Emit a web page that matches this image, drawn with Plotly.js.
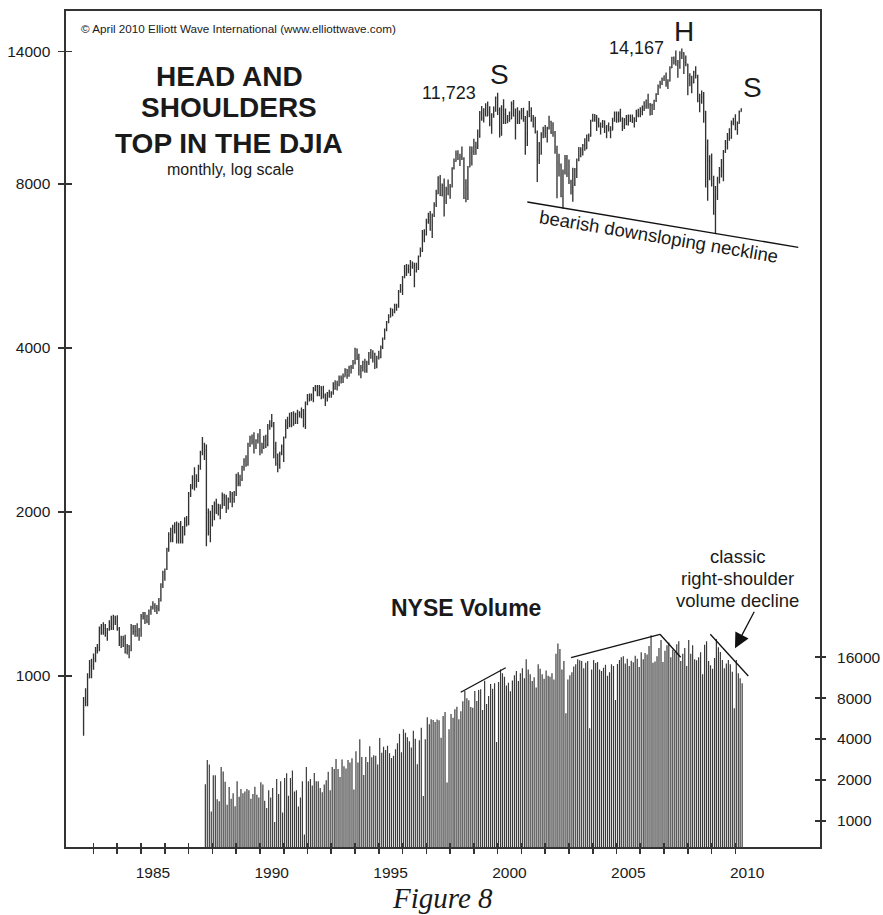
<!DOCTYPE html>
<html><head><meta charset="utf-8">
<script src="https://cdn.plot.ly/plotly-3.0.1.min.js"></script>
<style>html,body{margin:0;padding:0;background:#fff;}#chart{width:883px;height:915px;}</style>
</head><body><div id="chart"></div>
<script>
// ---------------- DATA ----------------
// DJIA monthly bars, first bar Aug 1982, last bar Apr 2010 (partial)
const djiaStartYear = 1982, djiaStartMonth = 8;
const djiaOpen = [
  809, 901, 896, 992, 1039,
  1047, 1076, 1113, 1130, 1226, 1200, 1222, 1199, 1216, 1233, 1225, 1276,
  1259, 1221, 1155, 1165, 1171, 1105, 1132, 1115, 1224, 1207, 1207, 1189,
  1212, 1287, 1284, 1267, 1258, 1315, 1336, 1348, 1334, 1329, 1374, 1472,
  1547, 1571, 1709, 1819, 1784, 1877, 1893, 1775, 1898, 1768, 1878, 1914,
  1896, 2158, 2224, 2305, 2286, 2292, 2419, 2572, 2663, 2596, 1994, 1834,
  1939, 1958, 2072, 1988, 2032, 2031, 2142, 2129, 2032, 2113, 2149, 2115,
  2169, 2342, 2258, 2294, 2419, 2480, 2440, 2661, 2737, 2693, 2645, 2706,
  2753, 2591, 2627, 2707, 2657, 2877, 2881, 2905, 2614, 2453, 2442, 2560,
  2634, 2736, 2882, 2914, 2888, 3028, 2907, 3025, 3044, 3017, 3069, 2895,
  3169, 3224, 3267, 3236, 3359, 3397, 3319, 3394, 3257, 3272, 3226, 3305,
  3301, 3310, 3371, 3435, 3428, 3527, 3516, 3540, 3651, 3555, 3681, 3684,
  3754, 3978, 3832, 3636, 3682, 3758, 3625, 3765, 3913, 3843, 3908, 3739,
  3834, 3844, 4011, 4158, 4321, 4465, 4556, 4709, 4650, 4789, 4756, 5075,
  5117, 5395, 5486, 5587, 5569, 5643, 5655, 5529, 5616, 5882, 6029, 6522,
  6448, 6813, 6878, 6584, 7009, 7331, 7673, 8223, 7622, 7945, 7442, 7823,
  7908, 7907, 8546, 8800, 9063, 8900, 8952, 8883, 7539, 7843, 8592, 9117,
  9181, 9359, 9307, 9786, 10789, 10560, 10971, 10655, 10829, 10337, 10729, 10878,
  11497, 10941, 10128, 10922, 10734, 10522, 10448, 10522, 11215, 10651, 10971, 10415,
  10787, 10887, 10495, 9879, 10735, 10912, 10502, 10523, 9950, 8848, 9075, 9852,
  10022, 9920, 10106, 10404, 9946, 9925, 9243, 8737, 8664, 7592, 8397, 8896,
  8342, 8054, 7891, 7992, 8480, 8850, 8985, 9234, 9416, 9275, 9801, 9782,
  10454, 10488, 10584, 10358, 10226, 10188, 10435, 10140, 10174, 10080, 10027, 10428,
  10783, 10490, 10766, 10504, 10193, 10467, 10275, 10641, 10482, 10569, 10440, 10806,
  10718, 10865, 10993, 11109, 11367, 11168, 11150, 11186, 11381, 11679, 12081, 12222,
  12463, 12622, 12269, 12354, 13063, 13628, 13409, 13212, 13358, 13896, 13930, 13372,
  13265, 12650, 12266, 12263, 12820, 12638, 11350, 11378, 11544, 10851, 9325, 8829,
  8776, 8001, 7063, 7609, 8168, 8500, 8447, 9172, 9496, 9712, 9713, 10345,
  10428, 10067, 10325, 10857
];
const djiaHigh = [
  915, 950, 1012, 1070, 1075,
  1100, 1130, 1145, 1232, 1245, 1255, 1245, 1225, 1265, 1290, 1295, 1290,
  1292, 1230, 1185, 1185, 1190, 1145, 1140, 1245, 1240, 1240, 1250, 1225,
  1300, 1310, 1310, 1295, 1325, 1345, 1372, 1360, 1350, 1390, 1480, 1560,
  1575, 1720, 1835, 1870, 1895, 1915, 1920, 1910, 1925, 1885, 1955, 1965,
  2175, 2250, 2335, 2415, 2345, 2440, 2590, 2746, 2680, 2660, 2030, 2010,
  2060, 2090, 2115, 2070, 2065, 2170, 2160, 2150, 2125, 2185, 2175, 2185,
  2350, 2365, 2340, 2430, 2510, 2540, 2680, 2760, 2775, 2800, 2720, 2790,
  2840, 2680, 2760, 2770, 2900, 2945, 3025, 2925, 2690, 2560, 2580, 2660,
  2750, 2960, 2990, 3040, 3050, 3060, 3040, 3080, 3060, 3110, 3090, 3190,
  3290, 3300, 3300, 3390, 3420, 3420, 3420, 3400, 3410, 3300, 3320, 3350,
  3330, 3460, 3490, 3480, 3560, 3560, 3590, 3670, 3660, 3710, 3720, 3800,
  4000, 3990, 3900, 3720, 3790, 3820, 3790, 3930, 3980, 3960, 3920, 3870,
  3950, 4040, 4180, 4340, 4480, 4610, 4740, 4720, 4820, 4820, 5110, 5240,
  5420, 5680, 5700, 5690, 5800, 5760, 5730, 5730, 5910, 6110, 6580, 6600,
  6900, 7080, 7130, 7060, 7400, 7800, 8260, 8300, 8010, 8180, 7900, 8150,
  7990, 8580, 8900, 9210, 9220, 9080, 9370, 8950, 8160, 8630, 9380, 9370,
  9680, 9560, 10060, 10880, 11110, 11010, 11250, 11330, 11100, 10780, 11090, 11570,
  11750, 11040, 11150, 11430, 11000, 10700, 10860, 11330, 11400, 11000, 11050, 10900,
  11020, 11030, 10650, 10900, 11350, 11060, 10700, 10620, 10020, 9550, 9950, 10180,
  10260, 10180, 10670, 10440, 10380, 10000, 9400, 9080, 8720, 8500, 9040, 9040,
  8870, 8140, 8560, 8550, 8900, 9350, 9340, 9470, 9700, 9850, 9900, 10490,
  10760, 10750, 10700, 10580, 10370, 10480, 10450, 10260, 10370, 10200, 10580, 10860,
  10860, 10860, 10990, 10600, 10560, 10700, 10720, 10720, 10720, 10600, 10940, 10990,
  11050, 11140, 11340, 11420, 11710, 11260, 11220, 11410, 11730, 12170, 12360, 12530,
  12640, 12800, 12450, 13140, 13690, 13700, 14050, 13500, 14000, 14167, 13950, 13760,
  13280, 12770, 12630, 12900, 13140, 12680, 11700, 11870, 11790, 10890, 9650, 9030,
  9090, 8280, 7930, 8240, 8590, 8880, 9230, 9630, 9920, 10120, 10450, 10580,
  10730, 10410, 10910, 11010
];
const djiaLow = [
  777, 880, 880, 990, 990,
  1027, 1060, 1100, 1110, 1190, 1190, 1180, 1160, 1210, 1215, 1215, 1240,
  1210, 1135, 1125, 1130, 1100, 1095, 1078, 1110, 1190, 1180, 1180, 1160,
  1180, 1270, 1245, 1250, 1240, 1295, 1325, 1310, 1300, 1315, 1370, 1450,
  1495, 1565, 1690, 1760, 1760, 1825, 1750, 1750, 1750, 1750, 1810, 1880,
  1890, 2130, 2200, 2190, 2215, 2270, 2390, 2540, 2490, 1730, 1810, 1760,
  1880, 1930, 1985, 1970, 1940, 2030, 2050, 1990, 2020, 2080, 2040, 2080,
  2140, 2230, 2230, 2280, 2380, 2420, 2430, 2630, 2660, 2560, 2610, 2670,
  2540, 2560, 2610, 2620, 2640, 2830, 2860, 2510, 2430, 2365, 2400, 2540,
  2470, 2730, 2840, 2860, 2860, 2880, 2900, 2900, 2980, 2970, 2860, 2840,
  3140, 3190, 3200, 3180, 3330, 3260, 3260, 3220, 3230, 3130, 3190, 3240,
  3240, 3280, 3350, 3340, 3400, 3440, 3450, 3540, 3510, 3540, 3590, 3660,
  3730, 3800, 3560, 3520, 3620, 3600, 3600, 3720, 3820, 3760, 3660, 3670,
  3810, 3830, 3980, 4140, 4290, 4440, 4550, 4570, 4630, 4680, 4740, 5050,
  5000, 5370, 5420, 5480, 5420, 5590, 5170, 5500, 5560, 5880, 6000, 6250,
  6430, 6760, 6560, 6360, 6950, 7250, 7660, 7600, 7580, 6970, 7350, 7620,
  7510, 7880, 8500, 8780, 8850, 8630, 8850, 7500, 7400, 7470, 8580, 8640,
  9040, 9050, 9270, 9720, 10440, 10370, 10640, 10660, 10200, 9880, 10580, 10850,
  10700, 9730, 9800, 10300, 10300, 10330, 10400, 10520, 10630, 9650, 10300, 10300,
  10500, 10400, 9050, 9390, 10600, 10400, 10150, 9900, 8060, 8700, 9050, 9700,
  9720, 9530, 10060, 9870, 9760, 9080, 7530, 8250, 7560, 7200, 8320, 8230,
  7990, 7650, 7420, 7930, 8200, 8800, 8950, 9020, 9200, 9270, 9570, 9770,
  10400, 10400, 10000, 10150, 9850, 10140, 9920, 9700, 9980, 9700, 10030, 10400,
  10360, 10370, 10400, 10000, 10080, 10250, 10240, 10390, 10340, 10150, 10390, 10600,
  10600, 10690, 10880, 10990, 10990, 10680, 10700, 10930, 11300, 11640, 11970, 12150,
  12350, 12050, 11940, 12330, 13050, 13250, 13180, 12520, 13010, 13560, 12720, 13150,
  11630, 12080, 11730, 12230, 12480, 11290, 10830, 11220, 10360, 7880, 7450, 8120,
  7910, 7020, 6470, 7470, 8010, 8220, 8090, 9110, 9250, 9600, 9680, 10250,
  10030, 9840, 10310, 10850
];
const djiaClose = [
  901, 896, 992, 1039, 1047,
  1076, 1113, 1130, 1226, 1200, 1222, 1199, 1216, 1233, 1225, 1276, 1259,
  1221, 1155, 1165, 1171, 1105, 1132, 1115, 1224, 1207, 1207, 1189, 1212,
  1287, 1284, 1267, 1258, 1315, 1336, 1348, 1334, 1329, 1374, 1472, 1547,
  1571, 1709, 1819, 1784, 1877, 1893, 1775, 1898, 1768, 1878, 1914, 1896,
  2158, 2224, 2305, 2286, 2292, 2419, 2572, 2663, 2596, 1994, 1834, 1939,
  1958, 2072, 1988, 2032, 2031, 2142, 2129, 2032, 2113, 2149, 2115, 2169,
  2342, 2258, 2294, 2419, 2480, 2440, 2661, 2737, 2693, 2645, 2706, 2753,
  2591, 2627, 2707, 2657, 2877, 2881, 2905, 2614, 2453, 2442, 2560, 2634,
  2736, 2882, 2914, 2888, 3028, 2907, 3025, 3044, 3017, 3069, 2895, 3169,
  3224, 3267, 3236, 3359, 3397, 3319, 3394, 3257, 3272, 3226, 3305, 3301,
  3310, 3371, 3435, 3428, 3527, 3516, 3540, 3651, 3555, 3681, 3684, 3754,
  3978, 3832, 3636, 3682, 3758, 3625, 3765, 3913, 3843, 3908, 3739, 3834,
  3844, 4011, 4158, 4321, 4465, 4556, 4709, 4650, 4789, 4756, 5075, 5117,
  5395, 5486, 5587, 5569, 5643, 5655, 5529, 5616, 5882, 6029, 6522, 6448,
  6813, 6878, 6584, 7009, 7331, 7673, 8223, 7622, 7945, 7442, 7823, 7908,
  7907, 8546, 8800, 9063, 8900, 8952, 8883, 7539, 7843, 8592, 9117, 9181,
  9359, 9307, 9786, 10789, 10560, 10971, 10655, 10829, 10337, 10729, 10878, 11497,
  10941, 10128, 10922, 10734, 10522, 10448, 10522, 11215, 10651, 10971, 10415, 10787,
  10887, 10495, 9879, 10735, 10912, 10502, 10523, 9950, 8848, 9075, 9852, 10022,
  9920, 10106, 10404, 9946, 9925, 9243, 8737, 8664, 7592, 8397, 8896, 8342,
  8054, 7891, 7992, 8480, 8850, 8985, 9234, 9416, 9275, 9801, 9782, 10454,
  10488, 10584, 10358, 10226, 10188, 10435, 10140, 10174, 10080, 10027, 10428, 10783,
  10490, 10766, 10504, 10193, 10467, 10275, 10641, 10482, 10569, 10440, 10806, 10718,
  10865, 10993, 11109, 11367, 11168, 11150, 11186, 11381, 11679, 12081, 12222, 12463,
  12622, 12269, 12354, 13063, 13628, 13409, 13212, 13358, 13896, 13930, 13372, 13265,
  12650, 12266, 12263, 12820, 12638, 11350, 11378, 11544, 10851, 9325, 8829, 8776,
  8001, 7063, 7609, 8168, 8500, 8447, 9172, 9496, 9712, 9713, 10345, 10428,
  10067, 10325, 10857, 10970
];

// NYSE monthly volume, first bar Sep 1987, last bar Apr 2010
const volStartYear = 1987, volStartMonth = 9;
const nyseVolume = [
  1860, 2800, 2600, 1170,
  2160, 2160, 1440, 1390, 2490, 2300, 1940, 1310, 1770, 1450, 1590, 1280,
  1950, 1500, 1710, 1590, 1640, 1710, 1680, 1450, 1570, 1780, 1550, 1480,
  1920, 1850, 1400, 1240, 1680, 1480, 1740, 980, 2030, 1570, 1950, 1150,
  2060, 2240, 1530, 2060, 2340, 1640, 1680, 1270, 1480, 1950, 790, 2490,
  1950, 2030, 1820, 2250, 1950, 1950, 1740, 1620, 1850, 1990, 2290, 1680,
  2490, 2400, 2850, 2400, 2100, 2830, 2520, 2420, 2800, 2680, 2880, 1700,
  3250, 2690, 3980, 2950, 2170, 2950, 2710, 3530, 2930, 3030, 3010, 2590,
  4070, 3170, 3510, 3320, 3560, 3140, 2900, 3010, 3360, 3720, 4380, 3190,
  4720, 4450, 4120, 3850, 3470, 4600, 4020, 2610, 3910, 4850, 1520, 3980,
  5780, 5130, 5590, 5520, 5340, 5560, 5500, 4090, 5910, 6330, 1910, 4720,
  6110, 5740, 6620, 6920, 5590, 6400, 7590, 9030, 7980, 7710, 6890, 6810,
  9030, 7620, 9190, 9290, 6540, 10760, 7240, 8300, 10170, 9390, 10290, 3800,
  10500, 13000, 12200, 11500, 9900, 10400, 9000, 10800, 11800, 12700, 10700, 12200,
  13300, 11200, 15500, 13000, 12000, 10700, 11400, 9600, 14200, 13200, 12000, 11100,
  12800, 11700, 11500, 12200, 11000, 17000, 20200, 18400, 13000, 15000, 6200, 11000,
  11800, 12400, 13700, 14200, 15500, 15200, 15000, 13300, 14600, 15000, 4800, 13000,
  15300, 14500, 14800, 13000, 12700, 13400, 14100, 11700, 12400, 14200, 13800, 7740,
  14300, 15300, 16000, 16300, 14400, 15600, 13800, 15100, 14700, 16400, 15600, 13600,
  17400, 15500, 17200, 16800, 19400, 23300, 14600, 14900, 16300, 18700, 21500, 14800,
  17900, 19600, 20600, 16000, 18200, 17500, 20000, 21000, 15000, 17000, 18700, 13800,
  21500, 17000, 19600, 15500, 15200, 16000, 17400, 12000, 19800, 21000, 15000, 14000,
  13200, 15800, 21800, 19000, 17500, 15300, 13300, 14400, 15300, 14200, 12500, 6730,
  15280, 12190, 11200, 10290
];

const leftTickVals = [1000, 2000, 4000, 8000, 14000];
const rightTickVals = [1000, 2000, 4000, 8000, 16000];
const labelYears = [1985, 1990, 1995, 2000, 2005, 2010];
const firstTickYear = 1983, lastTickYear = 2010;

// ---------------- HELPERS ----------------
function monthDates(y, m, n, day) {
  const out = [];
  for (let i = 0; i < n; i++) {
    const yy = y + Math.floor((m - 1 + i) / 12);
    const mm = (m - 1 + i) % 12 + 1;
    out.push(yy + '-' + String(mm).padStart(2, '0') + '-' + day);
  }
  return out;
}
const djiaDates = monthDates(djiaStartYear, djiaStartMonth, djiaClose.length, '01');
const volDates = monthDates(volStartYear, volStartMonth, nyseVolume.length, '15');
const yearTicks = [];
for (let y = firstTickYear; y <= lastTickYear; y++) yearTicks.push(y + '-01-01');
const labelVals = labelYears.map(y => y + '-07-01');
const labelText = labelYears.map(String);

// plot area in pixels: x 66..820, y 11..847
const L = 66, R = 820, T = 11, B = 847;
const px = x => (x - L) / (R - L);
const py = y => (B - y) / (B - T);

const FONT = 'Liberation Sans, Arial, Helvetica, sans-serif';
const INK = '#1a1a1a';
const AX = '#333333';
const MONTH_MS = 30.44 * 86400000;
const xRange = ['1981-11-04', '2013-07-24'];
const yRange = [2.6862, 4.2202];
const y2Range = [2.8062, 8.9668];

const traces = [
  {
    type: 'ohlc', x: djiaDates, open: djiaOpen, high: djiaHigh, low: djiaLow, close: djiaClose,
    xaxis: 'x', yaxis: 'y', tickwidth: 0.4,
    increasing: {line: {color: '#333333', width: 1.35}},
    decreasing: {line: {color: '#333333', width: 1.35}},
    hoverinfo: 'skip', showlegend: false
  },
  {
    type: 'bar', x: volDates, y: nyseVolume, xaxis: 'x', yaxis: 'y2',
    width: 0.6 * MONTH_MS,
    marker: {color: '#3a3a3a', line: {width: 0}},
    hoverinfo: 'skip', showlegend: false
  },
  {type: 'scatter', x: [], y: [], xaxis: 'x2', yaxis: 'y', hoverinfo: 'skip', showlegend: false},
  {type: 'scatter', x: [], y: [], xaxis: 'x', yaxis: 'y3', hoverinfo: 'skip', showlegend: false},
  {type: 'scatter', x: [], y: [], xaxis: 'x', yaxis: 'y4', hoverinfo: 'skip', showlegend: false}
];

function ann(text, x, y, size, extra) {
  return Object.assign({
    text: text, xref: 'paper', yref: 'paper', x: px(x), y: py(y),
    xanchor: 'center', yanchor: 'middle', showarrow: false,
    font: {family: FONT, size: size, color: INK}
  }, extra || {});
}
function seg(x0, y0, x1, y1) {
  return {type: 'line', xref: 'paper', yref: 'paper',
    x0: px(x0), y0: py(y0), x1: px(x1), y1: py(y1),
    line: {color: '#111', width: 1.3}};
}

const layout = {
  width: 883, height: 915,
  margin: {l: L, r: 883 - R, t: T, b: 915 - B, pad: 0},
  paper_bgcolor: '#fff', plot_bgcolor: '#fff',
  showlegend: false, hovermode: false, dragmode: false,
  bargap: 0.2,
  xaxis: {
    type: 'date', range: xRange, showgrid: false, zeroline: false,
    rangeslider: {visible: false},
    showline: true, mirror: true, linecolor: AX, linewidth: 1.6,
    tickmode: 'array', tickvals: labelVals, ticktext: labelText,
    ticks: '', ticklabelstandoff: 11,
    tickfont: {family: FONT, size: 15.5, color: INK},
    minor: {tickmode: 'array', tickvals: yearTicks, ticks: 'outside', ticklen: 5, tickwidth: 1.6, tickcolor: AX, showgrid: false}
  },
  xaxis2: {
    type: 'date', range: xRange, overlaying: 'x', showgrid: false, zeroline: false,
    rangeslider: {visible: false},
    showline: false, tickmode: 'array', tickvals: yearTicks, ticks: 'inside',
    ticklen: 4, tickwidth: 1.6, tickcolor: AX, showticklabels: false
  },
  yaxis: {
    type: 'log', range: yRange, showgrid: false, zeroline: false,
    showline: true, mirror: true, linecolor: AX, linewidth: 1.6,
    tickmode: 'array', tickvals: leftTickVals, ticktext: leftTickVals.map(String),
    ticks: 'outside', ticklen: 6, tickwidth: 1.6, tickcolor: AX,
    ticklabelstandoff: 5,
    tickfont: {family: FONT, size: 15.5, color: INK}
  },
  yaxis3: {
    type: 'log', range: yRange, overlaying: 'y', side: 'left', showgrid: false, zeroline: false,
    showline: false, tickmode: 'array', tickvals: leftTickVals, ticks: 'inside',
    ticklen: 6, tickwidth: 1.6, tickcolor: AX, showticklabels: false
  },
  yaxis2: {
    type: 'log', range: y2Range, overlaying: 'y', side: 'right', showgrid: false, zeroline: false,
    showline: false, tickmode: 'array', tickvals: rightTickVals, ticktext: rightTickVals.map(String),
    ticks: 'outside', ticklen: 5, tickwidth: 1.6, tickcolor: AX,
    ticklabelstandoff: 8,
    tickfont: {family: FONT, size: 15.5, color: INK}
  },
  yaxis4: {
    type: 'log', range: y2Range, overlaying: 'y', side: 'right', showgrid: false, zeroline: false,
    showline: false, tickmode: 'array', tickvals: rightTickVals, ticks: 'inside',
    ticklen: 5, tickwidth: 1.6, tickcolor: AX, showticklabels: false
  },
  shapes: [
    seg(527.3, 202, 798.3, 247.3),      // neckline
    seg(460.7, 692.3, 505.7, 667.7),    // volume trendline 1
    seg(571, 657.7, 660, 634.3),        // volume trendline 2
    seg(660, 634.3, 680.7, 657.3),
    seg(710.3, 634.3, 748.3, 676)       // right-shoulder decline
  ],
  annotations: [
    ann('\u00a9 April 2010 Elliott Wave International (www.elliottwave.com)', 238, 28, 11.7),
    ann('<b>HEAD AND</b>', 229, 76.7, 28),
    ann('<b>SHOULDERS</b>', 229, 108, 28),
    ann('<b>TOP IN THE DJIA</b>', 229, 143.8, 28),
    ann('monthly, log scale', 230.5, 170, 16),
    ann('11,723', 448.7, 92.5, 18),
    ann('S', 499, 75, 28),
    ann('14,167', 636, 47.5, 18),
    ann('H', 684, 31, 28),
    ann('S', 752.5, 87.5, 28),
    ann('bearish downsloping neckline', 659, 236.7, 18.5, {textangle: 9.5}),
    ann('<b>NYSE Volume</b>', 465.8, 608, 23),
    ann('classic', 737.5, 556, 18.5),
    ann('right-shoulder', 737.5, 578.5, 18.5),
    ann('volume decline', 737.5, 600, 18.5),
    {text: '', xref: 'paper', yref: 'paper', x: px(735), y: py(648.3),
     showarrow: true, ax: 20, ay: -38, arrowhead: 2, arrowsize: 2.3, arrowwidth: 1.3, arrowcolor: '#111'},
    ann('<i>Figure 8</i>', 442, 898, 29, {font: {family: 'Liberation Serif, Times New Roman, serif', size: 29, color: INK}, borderpad: 0})
  ]
};

Plotly.newPlot('chart', traces, layout, {staticPlot: true, displayModeBar: false});
</script></body></html>
